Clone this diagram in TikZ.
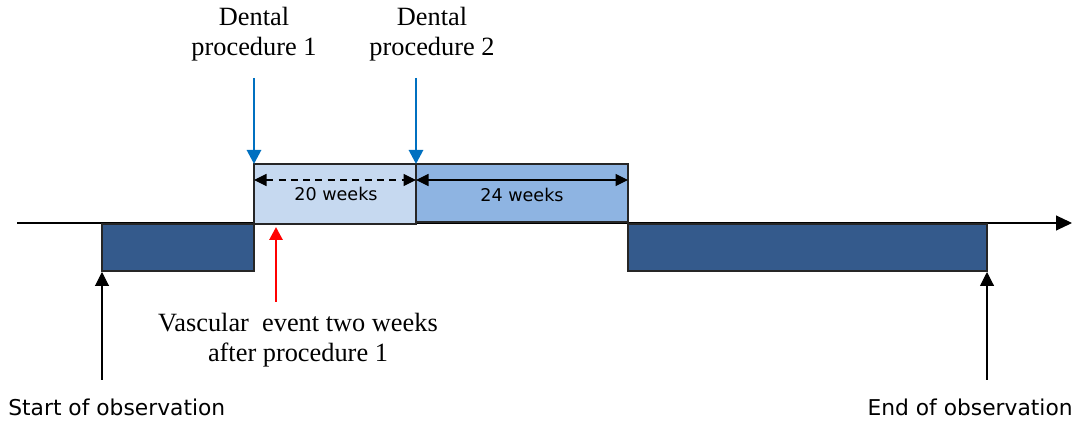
\documentclass[tikz,border=0pt]{standalone}
\usepackage{fontspec}
\setmainfont{Liberation Serif}
\setsansfont{DejaVu Sans}
\usetikzlibrary{arrows.meta}
\definecolor{obsdark}{RGB}{52,90,140}
\definecolor{risklight}{RGB}{198,217,240}
\definecolor{riskmid}{RGB}{142,180,226}
\definecolor{procblue}{RGB}{0,112,192}

\begin{document}
\begin{tikzpicture}[x=0.02cm, y=-0.02cm]
  \useasboundingbox (0,0) rectangle (1085,421);
  % draw the time axis
  \coordinate (axis_start) at (17,223);
  \coordinate (axis_end) at (1072,223);
  \draw[line width=0.6pt, -{Triangle[length=0.32cm, width=0.3cm]}] (axis_start) -- (axis_end);
  % draw the period boxes
  \filldraw[fill=obsdark, draw=black!85, line width=0.8pt] (102,224) rectangle (254,271);
  \filldraw[fill=risklight, draw=black!85, line width=0.8pt] (254,164) rectangle (416,224);
  \filldraw[fill=riskmid, draw=black!85, line width=0.8pt] (416,164) rectangle (628,222);
  \filldraw[fill=obsdark, draw=black!85, line width=0.8pt] (628,224) rectangle (987,271);
  % draw the week spans
  \coordinate (span_pt0) at (254,180);
  \coordinate (span_pt1) at (416,180);
  \coordinate (span_pt2) at (628,180);
  \draw[line width=0.6pt, dash pattern=on 4pt off 3pt, {Triangle[length=0.25cm, width=0.24cm]}-{Triangle[length=0.25cm, width=0.24cm]}] (span_pt0) -- (span_pt1);
  \draw[line width=0.6pt, {Triangle[length=0.25cm, width=0.24cm]}-{Triangle[length=0.25cm, width=0.24cm]}] (span_pt1) -- (span_pt2);
  \node[font=\sffamily\fontsize{10}{12}\selectfont] (weeks20) at (336,194) {20 weeks};
  \node[font=\sffamily\fontsize{10}{12}\selectfont] (weeks24) at (522,195) {24 weeks};
  % draw the dental procedures
  \node[align=center, font=\fontsize{15}{17}\selectfont] (proc_lbl1) at (254,34) {Dental\\procedure 1};
  \node[align=center, font=\fontsize{15}{17}\selectfont] (proc_lbl2) at (432,34) {Dental\\procedure 2};
  \coordinate (proc_top1) at (254,78);
  \coordinate (proc_top2) at (416,78);
  \coordinate (proc_pt1) at (254,164);
  \coordinate (proc_pt2) at (416,164);
  \draw[procblue, line width=1.6pt, -{Triangle[length=0.28cm, width=0.28cm]}] (proc_top1) -- (proc_pt1);
  \draw[procblue, line width=1.6pt, -{Triangle[length=0.28cm, width=0.28cm]}] (proc_top2) -- (proc_pt2);
  % draw the vascular event
  \coordinate (event_low) at (276,302);
  \coordinate (event_pt) at (276,227);
  \draw[red, line width=1.6pt, -{Triangle[length=0.26cm, width=0.26cm]}] (event_low) -- (event_pt);
  \node[align=center, font=\fontsize{15}{17}\selectfont] (event_lbl) at (298,340) {Vascular\ \ event two weeks\\after procedure 1};
  % draw start and end of observation
  \coordinate (start_low) at (102,380);
  \coordinate (start_pt) at (102,272);
  \coordinate (end_low) at (987,380);
  \coordinate (end_pt) at (987,272);
  \draw[line width=0.6pt, -{Triangle[length=0.28cm, width=0.28cm]}] (start_low) -- (start_pt);
  \draw[line width=0.6pt, -{Triangle[length=0.28cm, width=0.28cm]}] (end_low) -- (end_pt);
  \node[anchor=west, inner sep=0pt, font=\sffamily\fontsize{12.4}{14}\selectfont] (start_lbl) at (8,407) {Start of observation};
  \node[anchor=east, inner sep=0pt, font=\sffamily\fontsize{12.4}{14}\selectfont] (end_lbl) at (1073,407) {End of observation};
\end{tikzpicture}
\end{document}
